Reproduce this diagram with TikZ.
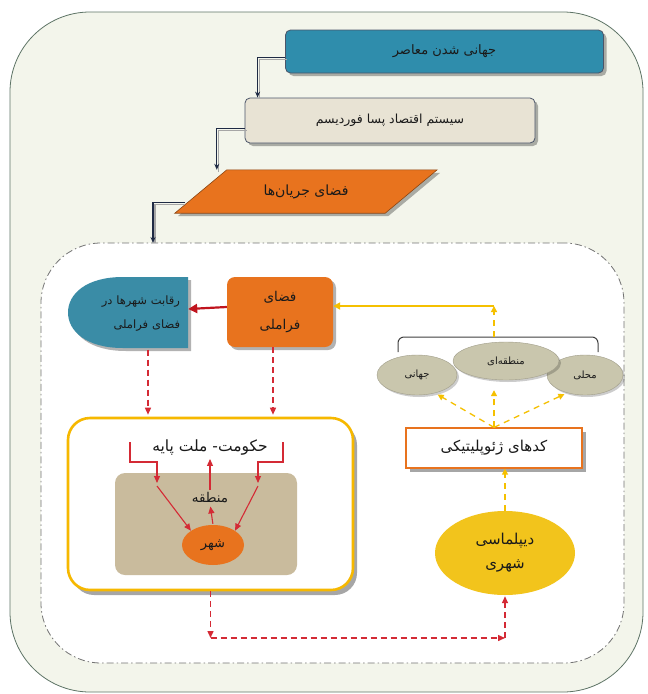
\documentclass[tikz,border=0pt]{standalone}
\usepackage{fontspec}
\TeXXeTstate=1
\newfontfamily\arabicfont[Script=Arabic]{DejaVu Sans}
\usetikzlibrary{shapes.geometric,shadows,arrows.meta,calc}
\newcommand\fa[1]{{\arabicfont\beginR #1\endR}}
\definecolor{bgC}{HTML}{F3F5EB}
\definecolor{frameC}{HTML}{5E7466}
\definecolor{blueC}{HTML}{2F8DAC}
\definecolor{blueD}{HTML}{3A8CA6}
\definecolor{beigeC}{HTML}{E8E3D4}
\definecolor{orangeC}{HTML}{E8731E}
\definecolor{tanC}{HTML}{C9BB9D}
\definecolor{yelF}{HTML}{F6B800}
\definecolor{yelE}{HTML}{F2C41C}
\definecolor{yelL}{HTML}{F5C000}
\definecolor{grayE}{HTML}{C9C6AD}
\definecolor{redS}{HTML}{C0141E}
\definecolor{redD}{HTML}{D42A35}
\definecolor{navyC}{HTML}{1E2A44}
\definecolor{txtC}{HTML}{1A1A1A}
\pgfdeclarelayer{back}
\pgfdeclarelayer{bg}
\pgfsetlayers{back,bg,main}
\begin{document}
\begin{tikzpicture}[x=1pt,y=-1pt,
  lbl/.style={font=\fontsize{13}{15}\selectfont, text=txtC, inner sep=0pt},
  shd/.style={drop shadow={shadow xshift=3pt,shadow yshift=-3pt,fill=black,opacity=0.3}},
  topbox/.style={lbl, rounded corners=5pt, draw=navyC!80, line width=0.8pt, shd},
  navyL/.style={draw=navyC, line width=1.2pt, -{Stealth[length=6pt,width=5pt]}},
  navyS/.style={draw=black!35, line width=1.2pt},
  gell/.style={lbl, ellipse, fill=grayE, draw=grayE!80!black, line width=0.4pt, inner sep=0pt,
    font=\fontsize{10}{12}\selectfont,
    drop shadow={shadow xshift=2pt,shadow yshift=-2pt,fill=black,opacity=0.2}},
  ydash/.style={draw=yelL, line width=1.3pt, dash pattern=on 6pt off 5pt, -{Triangle[length=6pt,width=6pt]}},
  ysol/.style={draw=yelL, line width=1.8pt, -{Triangle[length=7pt,width=7pt]}},
  rdash/.style={draw=redD, line width=1.4pt, dash pattern=on 6pt off 4pt, -{Triangle[length=7pt,width=6pt]}},
  rsol/.style={draw=redS, line width=2.2pt, -{Triangle[length=9pt,width=9pt]}},
  rin/.style={draw=redD, line width=1.1pt, -{Triangle[length=7pt,width=6pt]}}
]
\useasboundingbox (0,0) rectangle (648,694);

\begin{pgfonlayer}{back}
\node[draw=frameC, fill=bgC, line width=0.8pt, rounded corners=80pt,
  minimum width=633pt, minimum height=680pt] (outer) at (326.5,352) {};
\node[draw=black!55, fill=white, line width=0.8pt, rounded corners=60pt,
  dash pattern=on 7pt off 3pt on 1.5pt off 3pt,
  minimum width=583pt, minimum height=420pt] (inner) at (332.5,453) {};
\end{pgfonlayer}

% top chain
\node[topbox, fill=blueC, minimum width=318pt, minimum height=43pt] (b1) at (444.5,51.5) {\fa{جهانی شدن معاصر}};
\node[topbox, fill=beigeC, minimum width=290pt, minimum height=45pt, font=\fontsize{12.5}{15}\selectfont] (b2) at (390,120.5) {\fa{سیستم اقتصاد پسا فوردیسم}};
\node[lbl, minimum width=262pt, minimum height=43pt, font=\fontsize{14}{16}\selectfont] (fj) at (306,191.5) {\fa{فضای جریان‌ها}};
\begin{pgfonlayer}{bg}
\filldraw[fill=orangeC, draw=orangeC!60!black, line width=0.6pt, shd]
  (fj.south west) -- ([xshift=-52pt]fj.south east) -- (fj.north east) -- ([xshift=52pt]fj.north west) -- cycle;
\end{pgfonlayer}
\coordinate (fjend) at (153,243);

\draw[navyS] ([xshift=2pt,yshift=-8pt]b1.west) -| ([xshift=15pt]b2.north west);
\draw[navyL] ([yshift=-6pt]b1.west) -| ([xshift=13pt]b2.north west);
\draw[navyS] ([xshift=2pt,yshift=-10pt]b2.west) -| ([xshift=44pt,yshift=-2pt]fj.north west);
\draw[navyL] ([yshift=-8pt]b2.west) -| ([xshift=42pt]fj.north west);
\draw[navyS] ([xshift=10pt,yshift=9pt]fj.south west) -| ([xshift=2pt]fjend);
\draw[navyL] ([xshift=10pt,yshift=11pt]fj.south west) -| (fjend);

% left upper row
\node[lbl, font=\fontsize{11.5}{24}\selectfont, minimum width=120pt, minimum height=71pt,
  text width=104pt, align=right] (rq) at (128,314) {\fa{رقابت شهرها در}\\\fa{فضای فراملی}};
\begin{pgfonlayer}{bg}
\fill[blueD, shd] (188,277) -- (123,277) .. controls (86,277) and (68,294) .. (68,312.5)
  .. controls (68,331) and (86,348) .. (123,348) -- (188,348) -- cycle;
\end{pgfonlayer}
\node[lbl, fill=orangeC, rounded corners=8pt, minimum width=106pt, minimum height=70pt,
  align=center, shd, font=\fontsize{13.5}{16}\selectfont] (fm) at (280,312) {\fa{فضای}\\[12pt]\fa{فراملی}};
\draw[rsol] ([yshift=5pt]fm.west) -- ([yshift=5pt]rq.east);

% right upper: ellipses
\node[gell, minimum width=80pt, minimum height=40pt] (jh) at (417,375) {\fa{جهانی}};
\node[gell, minimum width=76pt, minimum height=40pt] (mh) at (585,375) {\fa{محلی}};
\node[gell, minimum width=106pt, minimum height=38pt] (mt) at (506,361) {\fa{منطقه‌ای}};
\draw[black!75, line width=1pt, rounded corners=6pt] (398,352) -- (398,337) -- (598,337) -- (598,352);
\coordinate (brC) at (494,337);
\coordinate (cor) at (494,306);
\draw[ydash] (brC) -- (cor);
\draw[ysol] (cor) -- (fm.east |- cor);

\node[lbl, font=\fontsize{15}{17}\selectfont, draw=orangeC, line width=1.2pt, fill=white,
  minimum width=176pt, minimum height=40pt,
  drop shadow={shadow xshift=4pt,shadow yshift=-4pt,fill=black,opacity=0.35}] (kd) at (494,448) {\fa{کدهای ژئوپلیتیکی}};
\draw[ydash, shorten >=3pt] (kd.north) -- (jh.-45);
\draw[ydash, shorten >=10pt] (kd.north) -- (kd.north |- mt.south);
\draw[ydash, shorten >=3pt] (kd.north) -- (mh.-135);

\node[lbl, ellipse, fill=yelE, minimum width=140pt, minimum height=84pt, align=center,
  font=\fontsize{15}{18}\selectfont] (dp) at (505,553) {\fa{دیپلماسی}\\[6pt]\fa{شهری}};
\draw[ydash] (dp.north) -- (dp.north |- kd.south);

% left lower: yellow frame
\node[draw=yelF, line width=2.6pt, fill=white, rounded corners=22pt,
  minimum width=285pt, minimum height=172pt,
  drop shadow={shadow xshift=4pt,shadow yshift=-5pt,fill=black,opacity=0.35}] (yb) at (210.5,504) {};
\node[fill=tanC, rounded corners=10pt, minimum width=182pt, minimum height=102pt] (tb) at (206,524) {};
\node[lbl, font=\fontsize{15.5}{18}\selectfont] (hk) at (210,447) {\fa{حکومت- ملت پایه}};
\node[lbl, font=\fontsize{13.5}{15}\selectfont] (mn) at (210,498) {\fa{منطقه}};
\node[lbl, ellipse, fill=orangeC, minimum width=62pt, minimum height=40pt,
  font=\fontsize{13}{15}\selectfont] (sh) at (213,545) {\fa{شهر}};

\coordinate (l1) at (130,442);
\coordinate (l2) at (157,483);
\coordinate (l3) at (157,486);
\coordinate (r1) at (283,442);
\coordinate (r2) at (258,483);
\coordinate (r3) at (258,486);
\draw[rin] (l1) |- ([yshift=21pt]l2) -- (l2);
\draw[rin] (l3) -- (sh.north west);
\draw[rin] (r1) |- ([yshift=21pt]r2) -- (r2);
\draw[rin] (r3) -- (sh.north east);
\draw[rin, shorten <=1pt, shorten >=3pt] (sh.north) -- (mn.south);
\draw[rin, shorten <=3pt, shorten >=4pt] (mn.north) -- (hk.south);

% red dashed connectors
\draw[rdash, shorten >=2pt] ([xshift=20pt]rq.south) -- ([xshift=20pt]rq.south |- yb.north);
\draw[rdash, shorten >=2pt] ([xshift=-7pt]fm.south) -- ([xshift=-7pt]fm.south |- yb.north);
\coordinate (bl) at (212,638);
\draw[rdash] (yb.south) -- (yb.south |- bl);
\draw[rdash] (yb.south |- bl) -- (dp.south |- bl);
\draw[rdash, shorten >=1pt] (dp.south |- bl) -- (dp.south);
\end{tikzpicture}
\end{document}
